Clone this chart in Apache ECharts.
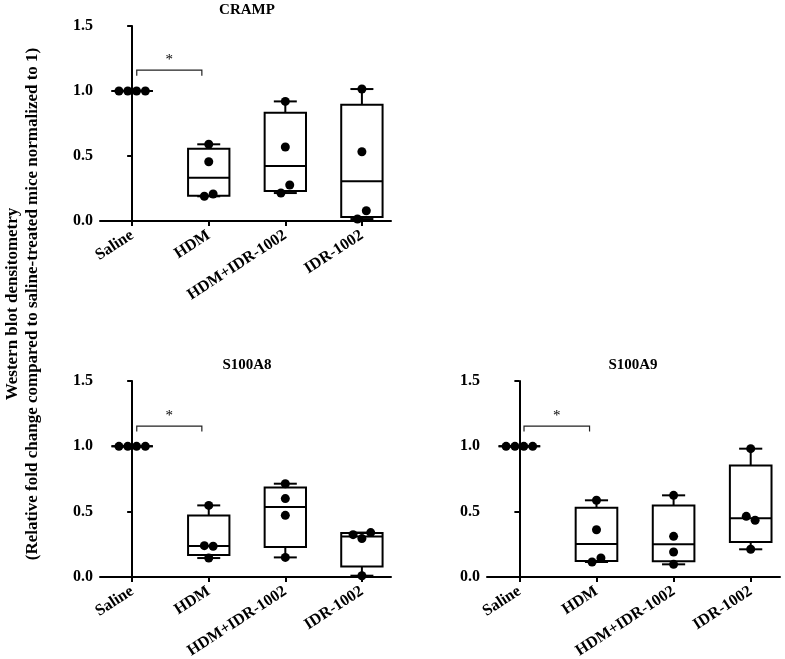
<!DOCTYPE html>
<html>
<head>
<meta charset="utf-8">
<script src="https://cdn.jsdelivr.net/npm/echarts@6/dist/echarts.min.js"></script>
<style>
  html, body { margin: 0; padding: 0; background: #fff; }
  #chart { width: 785px; height: 659px; }
</style>
</head>
<body>
<div id="chart"></div>
<script>
// groups on the x axis
const groups = ['Saline', 'HDM', 'HDM+IDR-1002', 'IDR-1002'];
const panelTitles = ['CRAMP', 'S100A8', 'S100A9'];
const yTicks = [0, 0.5, 1.0, 1.5];

// values (one dot each)
const crampSaline = [1, 1, 1, 1];
const crampHdm = [0.59, 0.456, 0.19, 0.208];
const crampHdmIdr = [0.92, 0.569, 0.215, 0.277];
const crampIdr = [1.015, 0.533, 0.015, 0.079];

const s100a8Saline = [1, 1, 1, 1];
const s100a8Hdm = [0.548, 0.24, 0.235, 0.145];
const s100a8HdmIdr = [0.714, 0.6, 0.472, 0.15];
const s100a8Idr = [0.324, 0.294, 0.34, 0.01];

const s100a9Saline = [1, 1, 1, 1];
const s100a9Hdm = [0.587, 0.362, 0.115, 0.145];
const s100a9HdmIdr = [0.625, 0.311, 0.191, 0.097];
const s100a9Idr = [0.982, 0.464, 0.434, 0.212];

// significance: Saline vs HDM, p < 0.05
const sigFrom = [0, 0, 0];
const sigTo = [1, 1, 1];
const sigLevel = [1.16, 1.155, 1.155];
const sigLabel = ['*', '*', '*'];

const panels = [
	[crampSaline, crampHdm, crampHdmIdr, crampIdr],
	[s100a8Saline, s100a8Hdm, s100a8HdmIdr, s100a8Idr],
	[s100a9Saline, s100a9Hdm, s100a9HdmIdr, s100a9Idr]
];

const FONT = 'Liberation Serif';
const BOX_HALF = 0.27, CAP_HALF = 0.15, DOT_GAP = 0.115, CLUSTER = 0.07;

// graphpad style percentile
function quantile(sorted, p){
	const n = sorted.length, pos = p * (n + 1);
	if(pos <= 1) return sorted[0];
	if(pos >= n) return sorted[n - 1];
	const i = Math.floor(pos);
	return sorted[i - 1] + (pos - i) * (sorted[i] - sorted[i - 1]);
}

function boxStats(vals, gi){
	const s = vals.slice().sort((a, b) => a - b);
	return [gi, s[0], quantile(s, 0.25), quantile(s, 0.5), quantile(s, 0.75), s[s.length - 1]];
}

// spread dots that sit too close together
function dotPoints(vals, gi){
	const idx = vals.map((v, i) => i).sort((a, b) => vals[a] - vals[b]);
	const out = [];
	let cl = [idx[0]];
	const flush = () => {
		cl.sort((a, b) => a - b);
		cl.forEach((k, j) => out.push([gi + (j - (cl.length - 1) / 2) * DOT_GAP, vals[k]]));
	};
	for(let i = 1; i < idx.length; i++){
		if(vals[idx[i]] - vals[idx[i - 1]] < CLUSTER){
			cl.push(idx[i]);
		}else{
			flush();
			cl = [idx[i]];
		}
	}
	flush();
	return out;
}

function renderBox(params, api){
	const x = api.value(0);
	const mn = api.value(1), q1 = api.value(2), md = api.value(3), q3 = api.value(4), mx = api.value(5);
	const c = api.coord([x, md]);
	const l = api.coord([x - BOX_HALF, q3]), r = api.coord([x + BOX_HALF, q1]);
	const top = api.coord([x, mx]), bot = api.coord([x, mn]);
	const capL = api.coord([x - CAP_HALF, mx])[0], capR = api.coord([x + CAP_HALF, mx])[0];
	const ls = {stroke: '#000', lineWidth: 2};
	return {
		type: 'group',
		children: [
			{type: 'line', shape: {x1: c[0], y1: l[1], x2: c[0], y2: top[1]}, style: ls},
			{type: 'line', shape: {x1: c[0], y1: r[1], x2: c[0], y2: bot[1]}, style: ls},
			{type: 'line', shape: {x1: capL, y1: top[1], x2: capR, y2: top[1]}, style: ls},
			{type: 'line', shape: {x1: capL, y1: bot[1], x2: capR, y2: bot[1]}, style: ls},
			{type: 'rect', shape: {x: l[0], y: l[1], width: r[0] - l[0], height: r[1] - l[1]},
				style: {stroke: '#000', lineWidth: 2, fill: 'none'}},
			{type: 'line', shape: {x1: l[0], y1: c[1], x2: r[0], y2: c[1]}, style: ls}
		]
	};
}

function renderSig(params, api){
	const a = api.value(0), b = api.value(1), y = api.value(2);
	const p1 = api.coord([a + 0.06, y - 0.042]), p2 = api.coord([a + 0.06, y]);
	const p3 = api.coord([b - 0.09, y]), p4 = api.coord([b - 0.09, y - 0.042]);
	const t = api.coord([(a + b) / 2 - 0.015, y + 0.02]);
	return {
		type: 'group',
		children: [
			{type: 'polyline', shape: {points: [p1, p2, p3, p4]}, style: {stroke: '#222', lineWidth: 1.2, fill: 'none'}},
			{type: 'text', x: t[0], y: t[1], style: {text: sigLabel[params.dataIndex] || '*', font: '15px ' + FONT,
				fill: '#000', align: 'center', verticalAlign: 'bottom'}}
		]
	};
}

const grids = [
	{left: 100, top: 26, width: 291, height: 195, outerBoundsMode: 'none', containLabel: false},
	{left: 100, top: 381, width: 291, height: 196, outerBoundsMode: 'none', containLabel: false},
	{left: 487, top: 381, width: 293, height: 196, outerBoundsMode: 'none', containLabel: false}
];
const titlePos = [[247, 3], [247, 358], [633, 358]];

const axisText = {fontFamily: FONT, fontWeight: 'bold', fontSize: 16, color: '#000'};

const xAxes = [], yAxes = [], series = [];
panels.forEach((pan, p) => {
	xAxes.push({
		type: 'value', gridIndex: p, min: -0.42, max: 3.38,
		splitLine: {show: false},
		axisLine: {lineStyle: {color: '#000', width: 2}},
		axisTick: {customValues: [0, 1, 2, 3], length: 5, lineStyle: {color: '#000', width: 2}},
		axisLabel: Object.assign({
			customValues: [0, 1, 2, 3], rotate: 33, margin: 13,
			formatter: v => groups[Math.round(v)]
		}, axisText)
	});
	yAxes.push({
		type: 'value', gridIndex: p, min: 0, max: 1.5, interval: 0.5,
		splitLine: {show: false},
		axisLine: {show: true, lineStyle: {color: '#000', width: 2}},
		axisTick: {show: true, length: 5, lineStyle: {color: '#000', width: 2}},
		axisLabel: Object.assign({formatter: v => v.toFixed(1), margin: 7}, axisText)
	});
	series.push({
		type: 'custom', xAxisIndex: p, yAxisIndex: p,
		renderItem: renderBox,
		data: pan.map((vals, gi) => boxStats(vals, gi)),
		z: 2, silent: true
	});
	series.push({
		type: 'scatter', xAxisIndex: p, yAxisIndex: p,
		symbol: 'circle', symbolSize: 9,
		itemStyle: {color: '#000', opacity: 1},
		data: pan.reduce((acc, vals, gi) => acc.concat(dotPoints(vals, gi)), []),
		z: 4, silent: true
	});
	series.push({
		type: 'custom', xAxisIndex: p, yAxisIndex: p,
		renderItem: renderSig,
		data: [[sigFrom[p], sigTo[p], sigLevel[p]]],
		z: 3, silent: true, clip: false
	});
});

const chart = echarts.init(document.getElementById('chart'), null, {renderer: 'canvas'});
chart.setOption({
	animation: false,
	backgroundColor: '#fff',
	title: panelTitles.map((t, i) => ({
		text: t, left: titlePos[i][0], top: titlePos[i][1], textAlign: 'center', padding: 0,
		textStyle: {fontFamily: FONT, fontWeight: 'bold', fontSize: 15, color: '#000'}
	})),
	grid: grids,
	xAxis: xAxes,
	yAxis: yAxes,
	series: series,
	graphic: [
		{type: 'text', x: 13, y: 304, rotation: Math.PI / 2,
			style: {text: 'Western blot densitometry', font: 'bold 17px ' + FONT, fill: '#000',
				align: 'center', verticalAlign: 'middle'}},
		{type: 'text', x: 33, y: 304, rotation: Math.PI / 2,
			style: {text: '(Relative fold change compared to saline-treated mice normalized to 1)',
				font: 'bold 17px ' + FONT, fill: '#000', align: 'center', verticalAlign: 'middle'}}
	]
});
</script>
</body>
</html>
